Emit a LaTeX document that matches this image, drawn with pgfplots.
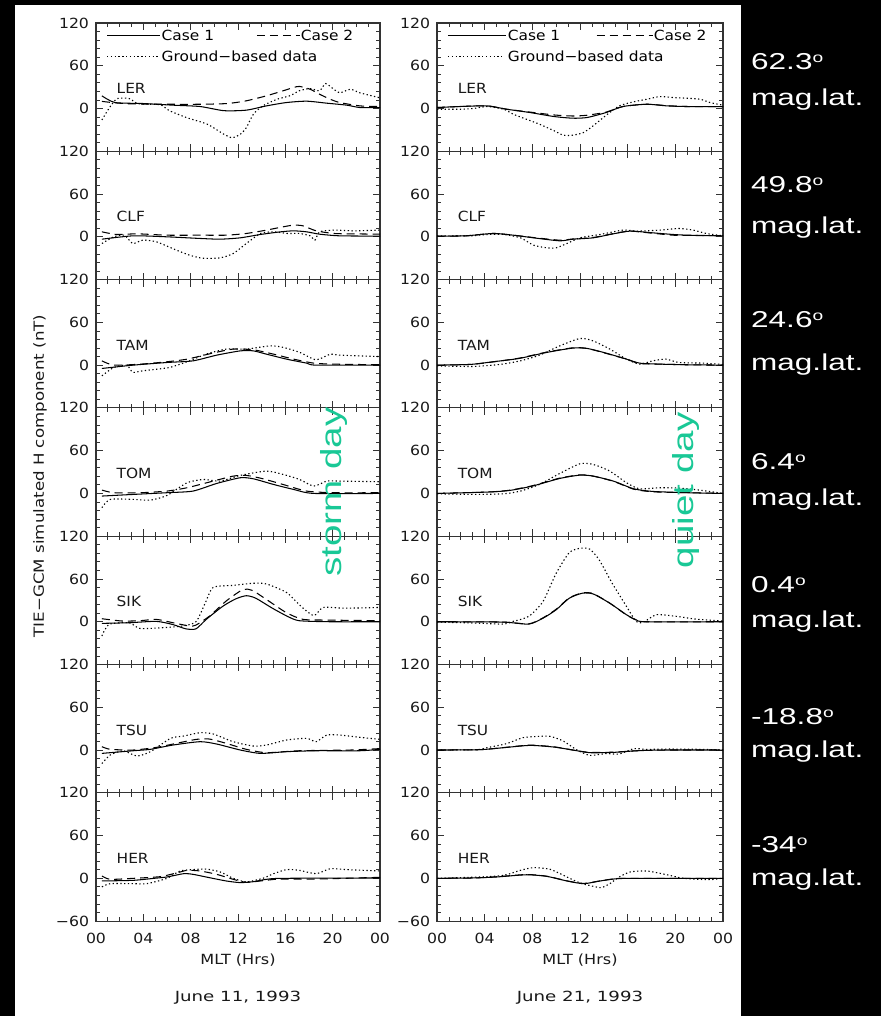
\documentclass[border=0pt]{standalone}
\usepackage{pgfplots}
\pgfplotsset{compat=1.18}
\usepackage{fontspec}
\setmainfont{DejaVu Sans}
\newfontfamily\idl[FakeStretch=1.1]{DejaVu Sans}
\newfontfamily\idn[FakeStretch=1.12]{DejaVu Sans}
\newfontfamily\idly[FakeStretch=1.19]{DejaVu Sans}
\newfontfamily\idlw[FakeStretch=1.15]{DejaVu Sans}
\newfontfamily\idld[FakeStretch=1.3]{DejaVu Sans}
\newfontfamily\arw[FakeStretch=1.37]{Liberation Sans}
\newfontfamily\arr[FakeStretch=1.33]{Liberation Sans}
\definecolor{daygreen}{RGB}{25,200,150}
\newcommand\dg{\raisebox{0.62ex}{\fontsize{14bp}{14bp}\selectfont o}}
\newcommand\fs{\fontsize{14bp}{16bp}\selectfont}
\tikzset{
 lc1/.style={black, line width=1.05bp},
 lc2/.style={black, line width=1.05bp, dash pattern=on 8bp off 5bp},
 lgd/.style={black, line width=1.1bp, dash pattern=on 1.3bp off 2.5bp},
}
\pgfplotsset{
 panel/.style={
  scale only axis, width=284bp, height=128.3bp, anchor=north west,
  xmin=0, xmax=24, ymin=-60, ymax=120,
  xtick={0,4,...,24}, minor x tick num=3,
  ytick={-60,0,60,120}, minor y tick num=4,
  tick align=inside, major tick length=7bp, minor tick length=4bp,
  axis line style={line width=1.1bp, black!80},
  every tick/.style={black!80, line width=0.8bp},
  tick label style={font=\idn\fs, text=black!90},
  yticklabel style={xshift=-3.5bp},
  xticklabel style={yshift=-8bp},
  xticklabels={}, yticklabels={,0,60,120},
 },
 rpanel/.style={panel, width=286bp},
 bottom/.style={xticklabels={00,04,08,12,16,20,00}, yticklabels={−60,0,60,120}},
 c1/.style={black, line width=1.05bp, smooth, tension=0.4},
 c2/.style={black, line width=1.05bp, dash pattern=on 8bp off 5bp, smooth, tension=0.4},
 gd/.style={black, line width=1.1bp, dash pattern=on 1.3bp off 2.5bp, smooth, tension=0.4},
}
\newcommand\st[1]{\node[anchor=west, font=\idl\fs, text=black!90] at (axis cs:1.45,28) {#1};}
\begin{document}
\begin{tikzpicture}
\fill[black] (0,0) rectangle (881bp,1016bp);
\fill[white] (15bp,0) rectangle (741bp,1011bp);

% ===================== STORM DAY (left column) =====================
\begin{axis}[panel, at={(96bp,993bp)}]
\addplot[c1] coordinates {(0.5,17.8)(1.6,8.4)(4,7)(6.5,4.7)(8.8,2.8)(10.8,-3)(12.7,-2.3)(14.4,3.7)(16.1,8.4)(17.8,10.3)(19.5,7.5)(21.2,4.7)(22.3,1.4)(24,1.4)};
\addplot[c2] coordinates {(0.5,10)(1.6,8)(3,6.5)(6,6)(8.8,6)(11.1,7)(12.7,10.8)(14.4,17.8)(15.8,24.8)(16.7,29.5)(17.2,31)(18.1,27)(18.9,20)(19.8,13)(20.6,8.4)(22.3,3.7)(24,2.8)};
\addplot[gd] coordinates {(0.5,-16)(0.9,-5)(1.3,5)(1.8,14)(2.8,14)(3.5,7)(4.5,6)(5.5,5)(6.2,-3)(7.7,-13)(9.4,-22)(10.8,-36)(11.5,-41)(12.2,-36)(12.7,-27)(13.3,-8)(14.1,3.7)(15.3,13)(16.4,18)(17.2,25)(18.1,28)(18.9,25)(19.4,35)(20.1,27)(20.6,22)(21.5,27)(22.3,22)(23.5,17)(24,15)};
\st{LER}
\draw[lc1] (axis cs:0.93,103) -- (axis cs:5.41,103);
\node[anchor=west, font=\idl\fs, inner sep=1bp] at (axis cs:5.45,103) {Case 1};
\draw[lc2] (axis cs:13.6,103) -- (axis cs:17.2,103);
\node[anchor=west, font=\idl\fs, inner sep=0.5bp] at (axis cs:17.25,103) {Case 2};
\draw[lgd] (axis cs:0.93,73.4) -- (axis cs:5.3,73.4);
\node[anchor=west, font=\idl\fs, inner sep=1bp] at (axis cs:5.45,73.4) {Ground−based data};
\end{axis}

\begin{axis}[panel, at={(96bp,864.7bp)}]
\addplot[c1] coordinates {(0.5,-3.3)(3.15,1.4)(6,0)(8.8,-2.3)(10.5,-3.3)(12.2,-1.4)(13.9,3.3)(15.6,7)(16.7,8.4)(17.8,7)(18.9,3.7)(20.6,1.4)(24,1)};
\addplot[c2] coordinates {(0.5,7)(1.75,3.3)(3.5,4.2)(6,2.3)(8.8,2.3)(11,2.3)(12.7,4.7)(14.4,9.4)(15.8,14)(16.7,16.4)(17.5,15.4)(18.6,8.4)(20.1,4.7)(21.5,4.2)(24,3.7)};
\addplot[gd] coordinates {(0.5,-9.4)(1.5,0)(2.4,2.3)(3.1,-9.4)(3.95,-4.7)(5.1,-7)(6.8,-18.7)(7.9,-25.7)(9,-30)(10.5,-29.5)(11.6,-23.4)(12.7,-9.4)(13.9,4.7)(15,7)(16.2,4.7)(17.2,4.7)(18.1,1.4)(18.5,-4.7)(18.9,7)(20.1,9.4)(21.8,8.4)(24,9.4)};
\st{CLF}
\end{axis}

\begin{axis}[panel, at={(96bp,736.4bp)}]
\addplot[c1] coordinates {(0.5,-4.7)(3.15,0)(6,3.7)(8.2,6)(10.2,14)(12.2,20)(13.3,20)(14.4,15.4)(16.1,8.4)(17.8,2.8)(18.6,0)(24,0)};
\addplot[c2] coordinates {(0.5,6)(1.5,0)(3.8,1.4)(6,4.7)(7.7,8.4)(9.9,17)(11.6,22.5)(13.3,21.5)(15,15.4)(16.7,8.4)(18.4,2.8)(20.1,1.4)(24,0.5)};
\addplot[gd] coordinates {(0.5,-15)(1.5,-3.3)(2.6,0)(3.1,-10)(3.95,-8)(6.2,-3.3)(7.9,6)(9.3,15.4)(11,22.5)(12.7,22.5)(14.7,27)(15.8,25)(17.2,18)(18.6,7.5)(19.8,15.4)(20.6,14)(24,12)};
\st{TAM}
\end{axis}

\begin{axis}[panel, at={(96bp,608.1bp)}]
\addplot[c1] coordinates {(0.5,-3.7)(3.15,-1.4)(6,1)(8.2,3.3)(10.2,14)(12.2,22)(13.3,20.5)(15,12.6)(16.7,5.6)(18.4,0)(24,0)};
\addplot[c2] coordinates {(0.5,4.7)(1.5,1)(3.8,1)(6,3.3)(7.7,8)(9.9,17.3)(11.6,24.3)(12.7,25.3)(14.1,20.6)(15.8,12.6)(17.8,3.3)(20.1,1)(24,1)};
\addplot[gd] coordinates {(0.5,-20)(1.2,-8.4)(3.15,-8.4)(4.6,-9.4)(6,-2.8)(7.7,15)(9.1,19.6)(10.5,17.3)(12.2,25.3)(14.4,31.3)(15.8,26.7)(17.2,19.6)(18.4,10.3)(19.5,17.3)(20.6,17.3)(24,16.4)};
\st{TOM}
\end{axis}

\begin{axis}[panel, at={(96bp,479.8bp)}]
\addplot[c1] coordinates {(0.5,-2.3)(2.8,-1.4)(5.1,0.5)(6.5,-4)(7.6,-10)(8.45,-10)(9.3,3)(10.7,21.5)(11.8,32)(12.7,36.5)(13.5,33)(14.9,19)(16.3,6.5)(17.2,1.4)(19.7,0)(24,0)};
\addplot[c2] coordinates {(0.5,4.2)(2.2,1)(3.7,1.4)(5.1,3.3)(6.5,-1.4)(7.9,-6)(8.45,-4.7)(9.6,8)(11,29)(12.4,45)(13.2,44)(14.6,29)(16.1,12.6)(17.5,3.3)(19.7,2.3)(24,1.4)};
\addplot[gd] coordinates {(0.5,-20)(1.1,-3.7)(2.8,-1.4)(3.7,-9.4)(5.6,-8.4)(7.3,-6)(8.45,0)(9.2,25)(9.9,48)(11.6,51)(13.3,54)(14.4,53)(16.1,41)(17.3,22)(18.4,8.5)(19.2,20)(21,19)(24,20)};
\st{SIK}
\end{axis}

\begin{axis}[panel, at={(96bp,351.5bp)}]
\addplot[c1] coordinates {(0.5,-4.7)(3.15,-1)(4.6,1)(6.5,7)(8.8,11.7)(10.2,8.4)(12.2,0)(13.9,-4.7)(16.1,-2.3)(18.6,-1)(22.3,-1)(24,1)};
\addplot[c2] coordinates {(0.5,4.7)(1.2,1)(3.15,0)(5.1,3.7)(6.8,9.4)(8.5,15)(9.6,15.4)(11,9.4)(12.7,1)(14.4,-3.7)(17.2,-1)(21.5,0)(24,2)};
\addplot[gd] coordinates {(0.5,-19)(1.2,-7)(2.3,-1)(3.45,-8.4)(4.6,-2.3)(6.3,16.4)(7.4,19.6)(8.8,24.3)(9.9,22.5)(11.6,11.7)(13.3,5.6)(14.4,7)(16.1,14)(17.8,16.4)(18.6,11.7)(19.5,21)(20.6,21)(22.3,17.8)(24,15)};
\st{TSU}
\end{axis}

\begin{axis}[panel, bottom, name=LB, at={(96bp,223.2bp)}]
\addplot[c1] coordinates {(0.5,-3.7)(3.15,-2.8)(4.9,0)(6,1.9)(7.4,6.5)(8.2,5.6)(9.3,1.9)(11,-3.7)(12.2,-6)(13.3,-4.7)(14.4,-1.4)(15.8,0)(24,0.5)};
\addplot[c2] coordinates {(0.5,3.3)(1.2,-1.4)(3.15,0)(5.4,2.3)(6.8,7.5)(7.7,11.2)(8.8,10.3)(10.2,5.6)(11.6,-1.4)(12.7,-5.6)(14.1,-3.3)(15.5,-1)(18.6,-1)(24,1.4)};
\addplot[gd] coordinates {(0.5,-12)(1.2,-7.5)(3.15,-7.5)(4.3,-7.5)(6,0)(7.1,10.3)(8.2,12.2)(9.3,13)(10.5,8.9)(11.6,0)(12.7,-5)(14.1,0)(15,6.5)(16.1,12.2)(17.2,11.2)(18.6,6.5)(19.8,13.5)(21.2,12.2)(24,10.3)};
\st{HER}
\end{axis}

% ===================== QUIET DAY (right column) =====================
\begin{axis}[rpanel, at={(437bp,993bp)}]
\addplot[c1] coordinates {(0,1.4)(1.9,2.8)(4.2,3.7)(5.85,-1)(7.8,-5.6)(9.8,-11.2)(11.4,-13.6)(12.6,-12.6)(14.2,-5.6)(15.6,2.8)(17.6,6)(19.3,3.7)(21,2.8)(24,2.8)};
\addplot[c2] coordinates {(0,1.4)(1.9,2.8)(4.2,3.7)(5.85,-1)(7.8,-5)(9.8,-9)(11.4,-10.5)(12.6,-9.4)(14.2,-5)(15.6,2.8)(17.6,6)(19.3,4)(21,2.8)(24,2.8)};
\addplot[gd] coordinates {(0,-1)(1.9,-1)(3.05,0)(4.2,2.8)(5.6,-1)(6.4,-8)(7.5,-15)(8.6,-22)(9.8,-31)(10.6,-37.4)(11.4,-37.4)(12.3,-33.7)(13.1,-24.3)(14.2,-9.4)(15.3,3.7)(16.5,9.4)(17.6,13)(18.7,16.8)(19.8,15.4)(20.9,14.5)(22.1,13)(22.9,8.4)(24,4.7)};
\st{LER}
\draw[lc1] (axis cs:0.92,103) -- (axis cs:5.79,103);
\node[anchor=west, font=\idl\fs, inner sep=1bp] at (axis cs:5.85,103) {Case 1};
\draw[lc2] (axis cs:13.4,103) -- (axis cs:18.1,103);
\node[anchor=west, font=\idl\fs, inner sep=0.5bp] at (axis cs:18.15,103) {Case 2};
\draw[lgd] (axis cs:0.92,73.4) -- (axis cs:5.7,73.4);
\node[anchor=west, font=\idl\fs, inner sep=1bp] at (axis cs:5.85,73.4) {Ground−based data};
\end{axis}

\begin{axis}[rpanel, at={(437bp,864.7bp)}]
\addplot[c1] coordinates {(0,1)(2.4,1.4)(4.7,4.7)(6.4,2.3)(8.1,-1.4)(10.3,-5.6)(11.4,-3.3)(13.1,-1.4)(14.8,4.2)(16.2,8)(18.1,5.6)(19.8,3.3)(21,2.3)(24,1.4)};
\addplot[c2] coordinates {(0,1)(2.4,1.4)(4.7,4.7)(6.4,2.3)(8.1,-1)(10.3,-4.7)(11.4,-3)(13.1,-1)(14.8,4.5)(16.2,8)(18.1,5)(19.8,2.3)(21,2)(24,1.4)};
\addplot[gd] coordinates {(0,1.4)(2.8,1.4)(4.2,3.3)(5.6,3.3)(7,-1.4)(8.1,-11.7)(9.2,-15.4)(10,-15.4)(10.9,-9.4)(12,-1.4)(13.7,3.3)(15.6,9.4)(16.8,8)(18.7,9.4)(20.3,11.7)(21.5,9.4)(22.6,4.7)(24,1.4)};
\st{CLF}
\end{axis}

\begin{axis}[rpanel, at={(437bp,736.4bp)}]
\addplot[c1] coordinates {(0,0)(2.8,1)(4.7,4.7)(6.9,9.4)(9.2,17.8)(11.4,23.9)(12.6,23.4)(14.2,16.8)(15.9,8.4)(17,2.8)(18.7,1.4)(21,0.5)(24,0)};
\addplot[c2] coordinates {(0,0)(2.8,1)(4.7,4.5)(6.9,9.8)(9.2,18.2)(11.4,24.3)(12.6,23.4)(14.2,16.4)(15.9,8.4)(17,2.3)(18.7,1.4)(21,0.5)(24,0)};
\addplot[gd] coordinates {(0,-1)(3,-1.9)(5.3,1)(7,6)(8.6,14)(10.3,27)(12,37.4)(13.1,34)(14.5,22.5)(15.9,8.4)(17,1.4)(18.1,6)(19.2,8.4)(20.3,3.7)(22.3,2.8)(24,1)};
\st{TAM}
\end{axis}

\begin{axis}[rpanel, at={(437bp,608.1bp)}]
\addplot[c1] coordinates {(0,0)(4.2,1.9)(6.1,4.2)(8,10.3)(10.3,21)(12,25.7)(13.1,24.3)(14.8,17.3)(16.5,6.5)(18.1,2.8)(21,1)(24,0)};
\addplot[c2] coordinates {(0,0)(4.2,1.9)(6.1,4.5)(8,10.8)(10.3,21.5)(12,26)(13.1,24.3)(14.8,17)(16.5,6)(18.1,2.3)(21,1)(24,0)};
\addplot[gd] coordinates {(0,-0.5)(3,-1.4)(5.6,-0.5)(7,3.3)(8.6,12.6)(10.3,28)(12,41.6)(13.1,40.7)(14.5,31.3)(15.9,15)(17,6.5)(18.7,8)(20.3,7.5)(22,4.7)(24,0)};
\st{TOM}
\end{axis}

\begin{axis}[rpanel, at={(437bp,479.8bp)}]
\addplot[c1] coordinates {(0,0)(5.5,-0.5)(7.7,-3.3)(8.9,5)(10,16.8)(11.1,33)(12.2,40)(13.1,39)(14.5,26)(15.9,9.8)(16.7,2.8)(17.5,0)(24,0)};
\addplot[c2] coordinates {(0,0)(5.5,-0.5)(7.7,-3)(8.9,5.5)(10,17.5)(11.1,33.5)(12.2,40.5)(13.1,39.5)(14.5,26)(15.9,9.5)(16.7,2.5)(17.5,0)(24,0)};
\addplot[gd] coordinates {(0,-0.5)(3.3,-1.9)(5.5,-3.3)(6.4,0.5)(7.7,7.5)(8.9,28.5)(10,68)(11.1,97)(12,103)(12.8,102)(13.6,87)(14.7,54)(15.9,21.5)(16.7,0.5)(17.3,-1)(18.4,9.8)(20.1,7.5)(21.7,3.7)(24,1)};
\st{SIK}
\end{axis}

\begin{axis}[rpanel, at={(437bp,351.5bp)}]
\addplot[c1] coordinates {(0,0)(3.6,0.5)(5.6,3.3)(7.8,6.5)(9.8,4.2)(11.4,0)(12.8,-3.7)(14.8,-3.3)(16.8,-1)(19,0)(24,0)};
\addplot[c2] coordinates {(0,0)(3.6,0.5)(5.6,3.5)(7.8,6.8)(9.8,4.5)(11.4,0)(12.8,-3.3)(14.8,-3)(16.8,-1)(19,0)(24,0)};
\addplot[gd] coordinates {(0,0)(3.3,0.5)(4.2,3.3)(5.85,9)(7.2,17.3)(8.6,19.2)(9.5,19.2)(10.6,12.6)(11.7,0.5)(12.8,-7.5)(14.2,-5)(15.3,-5.6)(16.5,1.9)(17.6,0.9)(19.5,1.4)(22.3,0.9)(24,0)};
\st{TSU}
\end{axis}

\begin{axis}[rpanel, bottom, name=RB, at={(437bp,223.2bp)}]
\addplot[c1] coordinates {(0,0)(3,0.5)(5,1.9)(7.5,5)(9.2,2.8)(10.9,-3.7)(12.3,-7.5)(13.7,-3.7)(15.1,-0.5)(17,0)(24,0)};
\addplot[c2] coordinates {(0,0)(3,0.5)(5,2.2)(7.5,5.3)(9.2,3)(10.9,-3.5)(12.3,-7.2)(13.7,-3.5)(15.1,-0.3)(17,0)(24,0)};
\addplot[gd] coordinates {(0,0)(3.6,1.9)(5.6,4.2)(7,11.2)(8.1,15)(9.5,12.6)(10.9,1.9)(12,-6.5)(13.1,-11.2)(13.8,-13)(14.5,-7.5)(15.3,1.9)(16.2,8.9)(17.6,10.3)(19.3,5)(20.7,0)(22.9,-1.9)(24,0.5)};
\st{HER}
\end{axis}

% ===================== annotations =====================
\path (LB.south) ++(0,-39bp) node[font=\idlw\fs, text=black!90] {MLT (Hrs)};
\path (LB.south) ++(0,-77bp) node[font=\idld\fs, text=black!90] {June 11, 1993};
\path (RB.south) ++(0,-39bp) node[font=\idlw\fs, text=black!90] {MLT (Hrs)};
\path (RB.south) ++(0,-77bp) node[font=\idld\fs, text=black!90] {June 21, 1993};
\node[rotate=90, font=\idly\fs, text=black!90] at (40bp,540bp) {TIE−GCM simulated H component (nT)};
\node[rotate=90, text=daygreen, font=\arr\fontsize{29bp}{32bp}\selectfont] at (334bp,524bp) {storm day};
\node[rotate=90, text=daygreen, font=\arr\fontsize{29bp}{32bp}\selectfont] at (686bp,526bp) {quiet day};
\begin{scope}[every node/.style={anchor=base west, text=white, font=\arw\fontsize{23bp}{26bp}\selectfont, inner sep=0pt}]
\node at (751bp,946bp) {62.3\dg};
\node at (751bp,910bp) {mag.lat.};
\node at (751bp,823bp) {49.8\dg};
\node at (751bp,782bp) {mag.lat.};
\node at (751bp,688bp) {24.6\dg};
\node at (751bp,645bp) {mag.lat.};
\node at (751bp,546bp) {6.4\dg};
\node at (751bp,510bp) {mag.lat.};
\node at (751bp,423bp) {0.4\dg};
\node at (751bp,388bp) {mag.lat.};
\node at (751bp,291bp) {-18.8\dg};
\node at (751bp,258bp) {mag.lat.};
\node at (751bp,163bp) {-34\dg};
\node at (751bp,130bp) {mag.lat.};
\end{scope}
\end{tikzpicture}
\end{document}
